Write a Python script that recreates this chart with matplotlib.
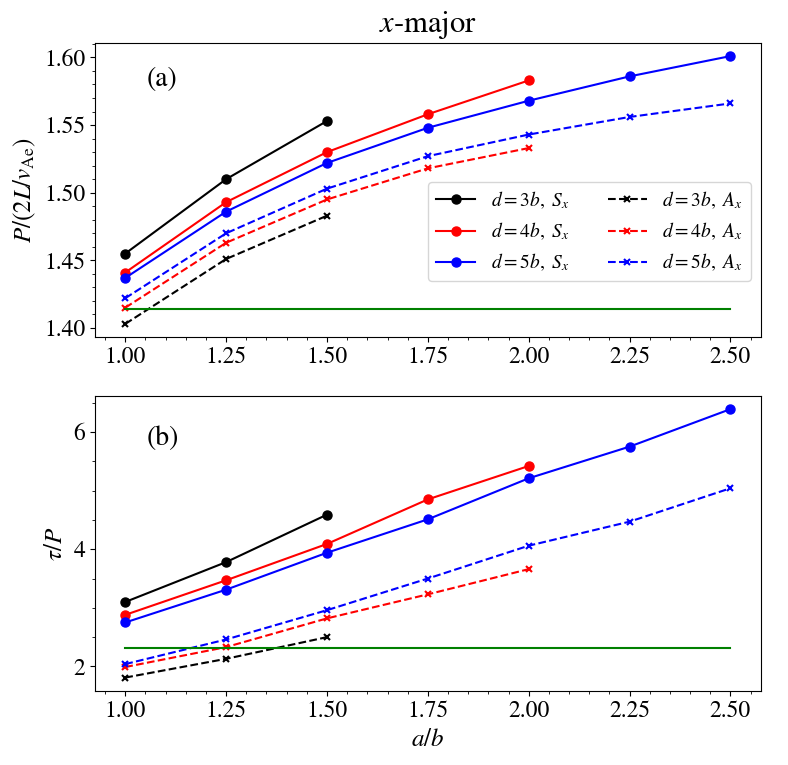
import numpy as np
import matplotlib
matplotlib.use("Agg")
import matplotlib.pyplot as plt
from matplotlib.ticker import AutoMinorLocator, FormatStrFormatter

plt.rcParams['font.family'] = 'serif'
plt.rcParams['font.serif'] = ['STIXGeneral', 'Liberation Serif', 'DejaVu Serif']
plt.rcParams['mathtext.fontset'] = 'stix'

# a/b values
ab = [1.00, 1.25, 1.50, 1.75, 2.00, 2.25, 2.50]

# panel (a): P/(2L/v_Ae)
P_S3 = [1.455, 1.510, 1.553]
P_S4 = [1.441, 1.493, 1.530, 1.558, 1.583]
P_S5 = [1.437, 1.486, 1.522, 1.548, 1.568, 1.586, 1.601]
P_A3 = [1.403, 1.451, 1.483]
P_A4 = [1.415, 1.463, 1.495, 1.518, 1.533]
P_A5 = [1.422, 1.470, 1.503, 1.527, 1.543, 1.556, 1.566]
P_ref = 1.414

# panel (b): tau/P
T_S3 = [3.10, 3.78, 4.59]
T_S4 = [2.88, 3.47, 4.09, 4.85, 5.42]
T_S5 = [2.75, 3.31, 3.94, 4.51, 5.21, 5.75, 6.39]
T_A3 = [1.81, 2.13, 2.50]
T_A4 = [1.99, 2.33, 2.82, 3.23, 3.66]
T_A5 = [2.04, 2.46, 2.96, 3.50, 4.06, 4.47, 5.04]
T_ref = 2.31

colors = ['black', 'red', 'blue']
names = ['3', '4', '5']

fig = plt.figure(figsize=(7.88, 7.65), dpi=100)
ax1 = fig.add_axes([95/788, 1 - 337.3/765, 665.7/788, 294.6/765])
ax2 = fig.add_axes([95/788, 1 - 691/765, 665.7/788, 295.3/765])


def draw(ax, S, A, ref):
    for ys, c, n in zip(S, colors, names):
        ax.plot(ab[:len(ys)], ys, '-', marker='o', color=c, ms=6.5, lw=1.5,
                label=r'$d=%sb,\ S_x$' % n)
    for ys, c, n in zip(A, colors, names):
        ax.plot(ab[:len(ys)], ys, '--', marker='x', color=c, ms=5, mew=1.5, lw=1.5,
                label=r'$d=%sb,\ A_x$' % n)
    ax.plot([ab[0], ab[-1]], [ref, ref], '-', color='green', lw=1.5)
    ax.set_xticks([1.00, 1.25, 1.50, 1.75, 2.00, 2.25, 2.50])
    ax.xaxis.set_major_formatter(FormatStrFormatter('%.2f'))
    ax.xaxis.set_minor_locator(AutoMinorLocator())
    ax.yaxis.set_minor_locator(AutoMinorLocator())
    ax.tick_params(labelsize=17)


draw(ax1, [P_S3, P_S4, P_S5], [P_A3, P_A4, P_A5], P_ref)
draw(ax2, [T_S3, T_S4, T_S5], [T_A3, T_A4, T_A5], T_ref)

ax1.set_yticks([1.40, 1.45, 1.50, 1.55, 1.60])
ax1.yaxis.set_major_formatter(FormatStrFormatter('%.2f'))
ax2.set_yticks([2, 4, 6])

ax1.set_ylabel(r'$P/(2L/v_{\rm Ae})$', fontsize=18)
ax2.set_ylabel(r'$\tau/P$', fontsize=18)
ax2.set_xlabel(r'$a/b$', fontsize=18)
ax1.set_title(r'$x$-major', fontsize=22, pad=8)

ax1.text(0.078, 0.877, '(a)', transform=ax1.transAxes, fontsize=20, va='center')
ax2.text(0.078, 0.856, '(b)', transform=ax2.transAxes, fontsize=20, va='center')

ax1.legend(ncol=2, fontsize=14, loc='lower right', bbox_to_anchor=(0.985, 0.191),
           borderaxespad=0, columnspacing=2.0)

fig.savefig('out.png', dpi=100)
